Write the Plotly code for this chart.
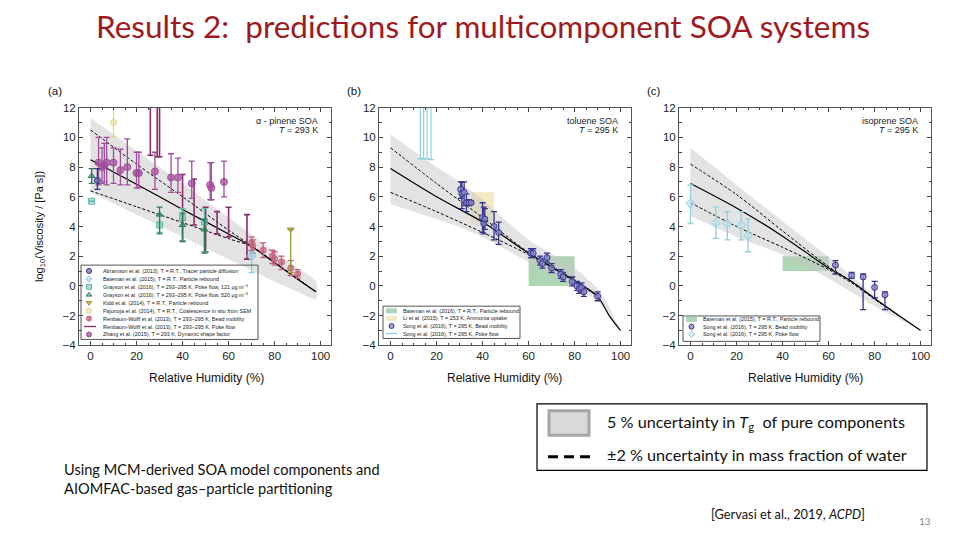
import plotly.graph_objects as go

# ---------------- data: panel (a) alpha-pinene SOA ----------------
a_band_x = [0, 20, 40, 60, 80, 90, 98]
a_band_hi = [11.3, 9.1, 6.9, 4.6, 2.3, 1.2, 0.3]
a_band_lo = [6.3, 4.8, 3.3, 1.8, 0.3, -0.4, -0.9]
a_line_x = [0, 20, 40, 60, 70, 80, 90, 98]
a_mid = [8.5, 6.85, 5.15, 3.5, 2.65, 1.55, 0.45, -0.4]
a_dash_hi = [10.5, 8.2, 6.0, 3.75, 2.7, 1.6, 0.5, -0.4]
a_dash_lo = [6.4, 5.33, 4.26, 3.18, 2.65, 1.55, 0.45, -0.4]

zh_x = [3.5, 5, 6, 7, 10, 13, 16, 20, 21, 28, 35, 38, 44, 52, 52.5, 58]
zh_y = [8.3, 8.0, 8.1, 8.3, 8.3, 7.8, 8.0, 7.6, 7.6, 7.7, 7.3, 7.3, 6.9, 6.8, 6.6, 7.0]
zh_lo = [6.8, 6.9, 7.0, 6.8, 6.9, 6.8, 6.8, 6.6, 6.6, 6.5, 6.3, 6.3, 5.9, 5.8, 5.8, 6.0]
zh_hi = [10.0, 9.3, 9.6, 10.0, 9.3, 9.2, 9.9, 9.0, 9.0, 9.0, 8.9, 8.6, 8.4, 8.3, 8.3, 8.4]

rp_x = [26, 29, 30, 40, 45, 50, 55, 60, 68]
rp_lo = [8.8, 8.7, 8.7, 3.0, 4.1, 2.3, 3.5, 3.3, 1.8]
rp_hi = [13, 13, 13, 7.5, 7.2, 5.3, 5.0, 5.3, 4.8]

rb_x = [70, 70.5, 75, 79, 80, 83, 87, 90]
rb_y = [2.9, 2.7, 2.4, 2.0, 1.8, 1.6, 1.2, 0.8]
rb_lo = [2.4, 2.2, 1.9, 1.5, 1.4, 1.1, 0.7, 0.5]
rb_hi = [3.3, 3.1, 2.9, 2.4, 2.3, 2.0, 1.7, 1.1]

ab_x, ab_y, ab_lo, ab_hi = [3], [7.1], [6.5], [7.9]
bt_x, bt_y, bt_lo, bt_hi = [70], [2.0], [0.9], [2.3]
g1_x = [0.5, 30, 40, 49.5]
g1_y = [5.7, 4.1, 4.6, 4.3]
g1_lo = [5.7, 3.6, 3.0, 2.3]
g1_hi = [5.7, 4.8, 5.2, 5.2]
g5_x = [0.5, 30, 40, 49.5]
g5_y = [7.4, 4.8, 4.1, 3.8]
g5_lo = [6.9, 3.5, 3.0, 2.2]
g5_hi = [7.9, 5.3, 4.9, 4.5]
kd_x, kd_y, kd_lo, kd_hi = [87], [3.8], [0.9], [3.8]
pj_x, pj_y, pj_lo, pj_hi = [10], [11.0], [10.0], [12.0]

# ---------------- data: panel (b) toluene SOA ----------------
b_band_x = [0, 20, 31, 40, 60, 80, 90, 95, 99]
b_band_hi = [10.2, 8.0, 6.9, 5.8, 3.1, 1.2, -0.2, -1.4, -2.8]
b_band_lo = [5.5, 4.5, 3.9, 3.3, 1.6, -0.1, -1.0, -2.0, -3.0]
b_line_x = [0, 20, 40, 60, 80, 90, 95, 100]
b_mid = [7.9, 6.0, 4.3, 2.2, 0.35, -0.7, -2.0, -3.0]
b_dash_x = [0, 20, 40, 60, 80, 90]
b_dash_hi = [9.3, 6.9, 4.6, 2.25, 0.4, -0.7]
b_dash_lo = [6.3, 5.0, 3.6, 2.1, 0.3, -0.7]

sb_x = [30.5, 31, 32, 33, 34, 35, 40, 40.5, 41, 45, 47, 61, 62, 65, 66, 68, 70, 74, 75, 79, 81, 82, 83, 84, 90]
sb_y = [6.5, 6.2, 6.3, 5.6, 5.6, 5.6, 4.6, 4.2, 4.5, 4.0, 3.6, 2.2, 2.2, 1.7, 1.5, 1.9, 1.2, 0.8, 0.6, 0.3, 0.0, -0.2, -0.1, -0.4, -0.7]
sb_lo = [5.9, 5.2, 5.4, 5.0, 5.4, 5.5, 3.6, 3.5, 3.8, 3.1, 2.8, 1.9, 1.9, 1.4, 1.2, 1.6, 0.9, 0.5, 0.3, 0.0, -0.3, -0.5, -0.4, -0.7, -1.0]
sb_hi = [7.0, 7.0, 7.0, 6.2, 5.8, 5.7, 5.6, 5.3, 5.2, 5.0, 4.3, 2.5, 2.5, 2.0, 1.8, 2.2, 1.5, 1.1, 0.9, 0.6, 0.3, 0.1, 0.2, -0.1, -0.4]

sp_x = [13, 14.4, 15.9, 17.6]
sp_lo = [8.55, 8.55, 8.55, 8.5]
sp_hi = [13, 13, 13, 13]

b_bateman_box = [60, 80, 0, 2]      # x0, x1, y0, y1
b_li_box = [35, 45, 4.2, 6.3]

# ---------------- data: panel (c) isoprene SOA ----------------
c_band_x = [0, 20, 40, 60, 80, 100]
c_band_hi = [9.3, 6.8, 4.35, 1.95, -0.65, -3.0]
c_band_lo = [4.7, 3.3, 2.1, 0.5, -1.35, -3.0]
c_line_x = [0, 20, 40, 60, 70, 80, 90, 100]
c_mid = [6.9, 5.25, 3.35, 1.2, 0.3, -0.85, -1.95, -3.0]
c_dash_x = [0, 20, 40, 60, 70, 80, 90]
c_dash_hi = [8.2, 6.15, 3.7, 1.3, 0.3, -0.85, -1.95]
c_dash_lo = [5.6, 4.0, 2.6, 1.1, 0.2, -0.9, -1.95]

cb_x = [63, 70, 75, 80, 84.5]
cb_y = [1.4, 0.7, 0.6, -0.1, -0.6]
cb_lo = [0.8, 0.5, -1.6, -0.8, -1.6]
cb_hi = [1.7, 0.9, 0.8, 0.3, -0.4]

cp_x = [0, 11, 16, 22, 25]
cp_y = [5.55, 4.25, 4.2, 4.1, 3.4]
cp_lo = [4.2, 3.2, 3.1, 3.1, 2.3]
cp_hi = [6.8, 5.3, 5.0, 5.0, 4.5]

c_bateman_box = [40, 60, 1, 2]

legend_a = [
    "Abramson et al. (2013), T = R.T., Tracer particle diffusion",
    "Bateman et al. (2015), T = R.T., Particle rebound",
    "Grayson et al. (2016), T = 293–295 K, Poke flow, 121 μg m<sup>−3</sup>",
    "Grayson et al. (2016), T = 293–295 K, Poke flow, 520 μg m<sup>−3</sup>",
    "Kidd et al. (2014), T = R.T., Particle rebound",
    "Pajunoja et al. (2014), T = R.T., Coalescence in situ from SEM",
    "Renbaum-Wolff et al. (2013), T = 293–295 K, Bead mobility",
    "Renbaum-Wolff et al. (2013), T = 293–295 K, Poke flow",
    "Zhang et al. (2015), T = 293 K, Dynamic shape factor",
]
legend_b = [
    "Bateman et al. (2016), T = R.T., Particle rebound",
    "Li et al. (2015), T = 253 K, Ammonia uptake",
    "Song et al. (2016), T = 295 K, Bead mobility",
    "Song et al. (2016), T = 295 K, Poke flow",
]
legend_c = [
    "Bateman et al. (2015), T = R.T., Particle rebound",
    "Song et al. (2016), T = 295 K, Bead mobility",
    "Song et al. (2016), T = 295 K, Poke flow",
]

# ---------------- styles ----------------
BAND = "rgba(200,200,200,0.5)"
C_ZH = "#A24C9E"
C_RP = "#8C2A6A"
C_RB = "#C8607C"
C_AB = "#2E3192"
C_BT = "#8EC6E6"
C_G1 = "#5FB8A8"
C_G5 = "#2E7D5B"
C_KD = "#9C9A2E"
C_PJ = "#E6D58C"
C_SB = "#34338E"
C_SP = "#8ED0E0"
C_GREEN = "rgba(120,185,130,0.6)"
C_YEL = "rgba(238,225,170,0.7)"

TICKFONT = dict(family="Liberation Sans, Arial", size=11.5, color="#222")
W, H = 960, 540


def P(px, py):
    return px / W, 1 - py / H


fig = go.Figure()


def band(xs, hi, lo, xa, ya):
    fig.add_trace(go.Scatter(x=list(xs) + list(xs)[::-1], y=list(hi) + list(lo)[::-1],
                             fill="toself", fillcolor=BAND, line=dict(width=0, shape="spline", smoothing=0.6),
                             mode="lines", hoverinfo="skip", xaxis=xa, yaxis=ya))


def lines(xm, mid, xd, dhi, dlo, xa, ya):
    for yy in (dhi, dlo):
        fig.add_trace(go.Scatter(x=xd, y=yy, mode="lines",
                                 line=dict(color="black", width=1, dash="3px,2px", shape="spline", smoothing=0.8),
                                 xaxis=xa, yaxis=ya))
    fig.add_trace(go.Scatter(x=xm, y=mid, mode="lines",
                             line=dict(color="black", width=1.2, shape="spline", smoothing=0.8),
                             xaxis=xa, yaxis=ya))


def pts(xs, ys, lo, hi, color, symbol, fill, xa, ya, size=6, ew=1.3):
    fig.add_trace(go.Scatter(
        x=xs, y=ys, mode="markers",
        marker=dict(symbol=symbol, size=size, color=fill, line=dict(color=color, width=1)),
        error_y=dict(type="data", symmetric=False,
                     array=[h - y for h, y in zip(hi, ys)],
                     arrayminus=[y - l for l, y in zip(lo, ys)],
                     color=color, thickness=ew, width=3),
        xaxis=xa, yaxis=ya))


def bars(xs, lo, hi, color, xa, ya, ew=1.3):
    fig.add_trace(go.Scatter(
        x=xs, y=lo, mode="markers", marker=dict(size=1, color="rgba(0,0,0,0)"),
        error_y=dict(type="data", symmetric=False,
                     array=[h - l for h, l in zip(hi, lo)], arrayminus=[0] * len(lo),
                     color=color, thickness=ew, width=3),
        xaxis=xa, yaxis=ya))


# panel a
band(a_band_x, a_band_hi, a_band_lo, "x", "y")
lines(a_line_x, a_mid, a_line_x, a_dash_hi, a_dash_lo, "x", "y")
bars(rp_x, rp_lo, rp_hi, C_RP, "x", "y", ew=1.6)
pts(zh_x, zh_y, zh_lo, zh_hi, C_ZH, "circle", "rgba(162,76,158,0.7)", "x", "y", size=7)
pts(rb_x, rb_y, rb_lo, rb_hi, C_RB, "circle-x", "rgba(200,96,124,0.55)", "x", "y")
pts(ab_x, ab_y, ab_lo, ab_hi, C_AB, "circle", "rgba(110,100,170,0.7)", "x", "y")
pts(bt_x, bt_y, bt_lo, bt_hi, C_BT, "diamond", "rgba(142,198,230,0.5)", "x", "y", size=7)
pts(g1_x, g1_y, g1_lo, g1_hi, C_G1, "square", "rgba(95,184,168,0.5)", "x", "y")
pts(g5_x, g5_y, g5_lo, g5_hi, C_G5, "triangle-up", "rgba(46,125,91,0.5)", "x", "y")
pts(kd_x, kd_y, kd_lo, kd_hi, C_KD, "triangle-down", "rgba(156,154,46,0.6)", "x", "y")
pts(pj_x, pj_y, pj_lo, pj_hi, C_PJ, "circle", "rgba(230,213,140,0.5)", "x", "y")

# panel b
band(b_band_x, b_band_hi, b_band_lo, "x2", "y2")
lines(b_line_x, b_mid, b_dash_x, b_dash_hi, b_dash_lo, "x2", "y2")
bars(sp_x, sp_lo, sp_hi, C_SP, "x2", "y2", ew=1.2)
pts(sb_x, sb_y, sb_lo, sb_hi, C_SB, "circle", "rgba(138,134,200,0.75)", "x2", "y2")

# panel c
band(c_band_x, c_band_hi, c_band_lo, "x3", "y3")
lines(c_line_x, c_mid, c_dash_x, c_dash_hi, c_dash_lo, "x3", "y3")
pts(cb_x, cb_y, cb_lo, cb_hi, C_SB, "circle", "rgba(138,134,200,0.75)", "x3", "y3")
pts(cp_x, cp_y, cp_lo, cp_hi, C_SP, "diamond", "rgba(190,225,240,0.6)", "x3", "y3", size=7)

shapes = []
for box, col, xr, yr in [(b_bateman_box, C_GREEN, "x2", "y2"), (b_li_box, C_YEL, "x2", "y2"),
                         (c_bateman_box, C_GREEN, "x3", "y3")]:
    shapes.append(dict(type="rect", xref=xr, yref=yr, x0=box[0], x1=box[1], y0=box[2], y1=box[3],
                       fillcolor=col, line=dict(width=0), layer="below"))


def leg_marker(px, py, symbol, color, fill, size=5):
    fig.add_trace(go.Scatter(x=[px], y=[py], mode="markers", xaxis="x4", yaxis="y4",
                             marker=dict(symbol=symbol, size=size, color=fill,
                                         line=dict(color=color, width=1))))


annotations = []


def txt(px, py, s, size, color="#222", xanchor="left", family="Liberation Sans, Arial", **kw):
    x, y = P(px, py)
    annotations.append(dict(x=x, y=y, xref="paper", yref="paper", text=s, showarrow=False,
                            xanchor=xanchor, yanchor="middle",
                            font=dict(size=size, color=color, family=family), **kw))


def rect_px(x0, y0, x1, y1, **kw):
    a0, b0 = P(x0, y0)
    a1, b1 = P(x1, y1)
    shapes.append(dict(type="rect", xref="paper", yref="paper", x0=a0, x1=a1, y0=b1, y1=b0, **kw))


def line_px(x0, y0, x1, y1, **kw):
    a0, b0 = P(x0, y0)
    a1, b1 = P(x1, y1)
    shapes.append(dict(type="line", xref="paper", yref="paper", x0=a0, x1=a1, y0=b0, y1=b1, **kw))


# legend (a)
rect_px(81, 265, 258, 341, line=dict(color="#555", width=1))
rows_a = [271, 279.2, 287.3, 295.4, 303.5, 311.6, 319.7, 327.8, 335.9]
sym_a = [("circle", C_AB, "rgba(110,100,170,0.7)"), ("diamond", C_BT, "rgba(142,198,230,0.5)"),
         ("square", C_G1, "rgba(95,184,168,0.5)"), ("triangle-up", C_G5, "rgba(46,125,91,0.5)"),
         ("triangle-down", C_KD, "rgba(156,154,46,0.6)"), ("circle", C_PJ, "rgba(230,213,140,0.5)"),
         ("circle-x", C_RB, "rgba(200,96,124,0.6)"), None, ("circle", C_ZH, "rgba(162,76,158,0.75)")]
for r, s, t in zip(rows_a, sym_a, legend_a):
    if s is None:
        line_px(84, r, 96, r, line=dict(color=C_RP, width=1.3))
    else:
        leg_marker(89, r, s[0], s[1], s[2])
    txt(101, r, t, 5.4)

# legend (b)
rect_px(383, 307, 520, 340, line=dict(color="#555", width=1))
rows_b = [311.7, 319.5, 327.3, 335]
rect_px(386, rows_b[0] - 2.5, 397, rows_b[0] + 2.5, fillcolor=C_GREEN, line=dict(width=0))
rect_px(386, rows_b[1] - 2.5, 397, rows_b[1] + 2.5, fillcolor=C_YEL, line=dict(width=0))
leg_marker(391.5, rows_b[2], "circle", C_SB, "rgba(138,134,200,0.75)")
line_px(386, rows_b[3], 397, rows_b[3], line=dict(color=C_SP, width=1.3))
for r, t in zip(rows_b, legend_b):
    txt(400.5, r, t, 5.4)

# legend (c)
rect_px(683, 317, 820, 343, line=dict(color="#555", width=1))
rows_c = [320.5, 328, 335.7]
rect_px(686, rows_c[0] - 2.5, 697, rows_c[0] + 2.5, fillcolor=C_GREEN, line=dict(width=0))
leg_marker(691.5, rows_c[1], "circle", C_SB, "rgba(138,134,200,0.75)")
leg_marker(691.5, rows_c[2], "diamond", C_SP, "rgba(190,225,240,0.6)")
for r, t in zip(rows_c, legend_c):
    txt(700.5, r, t, 5.4)

# species labels
txt(320, 117.5, "α - pinene SOA", 9, xanchor="right")
txt(320, 127, "<i>T</i> = 293 K", 9, xanchor="right")
txt(620, 117.5, "toluene SOA", 9, xanchor="right")
txt(620, 127, "<i>T</i> = 295 K", 9, xanchor="right")
txt(920, 117.5, "isoprene SOA", 9, xanchor="right")
txt(920, 127, "<i>T</i> = 295 K", 9, xanchor="right")

# panel labels
txt(46, 87, "(a)", 11.5, color="#111")
txt(345, 87, "(b)", 11.5, color="#111")
txt(645, 87, "(c)", 11.5, color="#111")

# axis titles
for cx in [206, 505, 805]:
    txt(cx, 380, "Relative Humidity (%)", 12, color="#111", xanchor="center")
tx, ty = P(40, 226)
annotations.append(dict(x=tx, y=ty, xref="paper", yref="paper", text="log<sub>10</sub>(Viscosity / [Pa s])",
                        showarrow=False, textangle=-90, xanchor="center", yanchor="middle",
                        font=dict(size=11, color="#111", family="Liberation Sans, Arial")))

# slide texts
txt(483, 20, "Results 2:  predictions for multicomponent SOA systems", 31.5, color="#9E1A20",
    xanchor="center", family="Lato")
txt(62, 474, "Using MCM-derived SOA model components and", 14.6, color="#111", family="Lato")
txt(62, 493, "AIOMFAC-based gas–particle partitioning", 14.6, color="#111", family="Lato")
txt(788, 520, "[Gervasi et al., 2019, <i>ACPD</i>]", 12.8, color="#111", xanchor="center", family="Lato")
txt(925, 527, "13", 10, color="#888", xanchor="center", family="Lato")

# slide legend box
rect_px(537, 407, 927, 475, line=dict(color="black", width=1.2))
rect_px(549, 414, 589, 439, fillcolor="#D9D9D9", line=dict(color="#A6A6A6", width=3))
line_px(548, 461, 590, 461, line=dict(color="black", width=3, dash="10px,6px"))
txt(605, 426, "5 % uncertainty in <i>T</i><sub>g</sub>  of pure components", 16.2, color="#111", family="Lato")
txt(605, 459, "±2 % uncertainty in mass fraction of water", 16.2, color="#111", family="Lato")

# axes
ydom = [1 - 347 / H, 1 - 104 / H]
xdoms = [[79 / W, 331 / W], [379 / W, 631 / W], [679 / W, 931 / W]]


def xaxis(dom, anchor):
    return dict(domain=dom, anchor=anchor, range=[-5, 104.5], tickvals=[0, 20, 40, 60, 80, 100],
                ticks="inside", ticklen=4, tickcolor="#444", mirror="allticks", showline=True,
                linecolor="#555", linewidth=1, showgrid=False, zeroline=False, tickfont=TICKFONT,
                minor=dict(dtick=5, tick0=0, ticks="inside", ticklen=2.5, tickcolor="#444"))


def yaxis(anchor):
    return dict(domain=ydom, anchor=anchor, range=[-4, 12], dtick=2, tick0=0,
                ticks="inside", ticklen=4, tickcolor="#444", mirror="allticks", showline=True,
                linecolor="#555", linewidth=1, showgrid=False, zeroline=False, tickfont=TICKFONT,
                minor=dict(dtick=1, ticks="inside", ticklen=2.5, tickcolor="#444"))


fig.update_layout(
    width=W, height=H, margin=dict(l=0, r=0, t=0, b=0),
    paper_bgcolor="white", plot_bgcolor="rgba(0,0,0,0)", showlegend=False,
    xaxis=xaxis(xdoms[0], "y"), yaxis=yaxis("x"),
    xaxis2=xaxis(xdoms[1], "y2"), yaxis2=yaxis("x2"),
    xaxis3=xaxis(xdoms[2], "y3"), yaxis3=yaxis("x3"),
    xaxis4=dict(domain=[0, 1], range=[0, W], visible=False, anchor="y4", fixedrange=True),
    yaxis4=dict(domain=[0, 1], range=[H, 0], visible=False, anchor="x4", fixedrange=True),
    shapes=shapes, annotations=annotations,
)

fig.write_html("out.html")
